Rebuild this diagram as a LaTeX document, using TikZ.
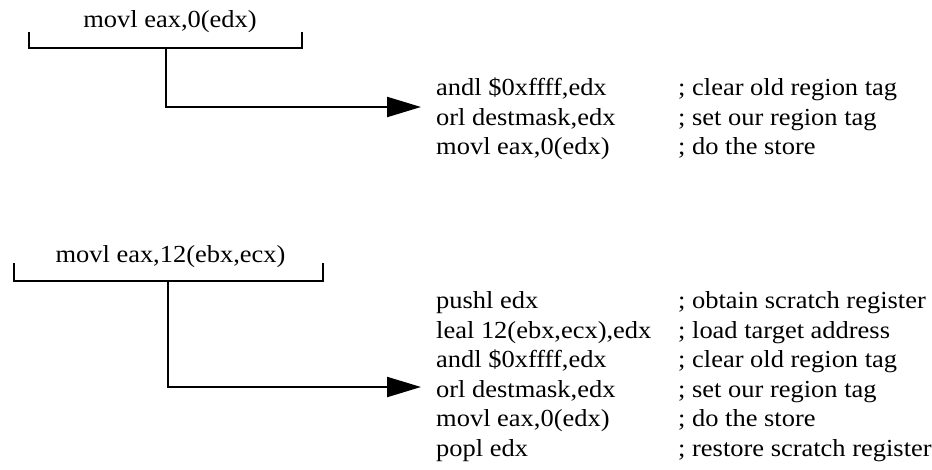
\documentclass[tikz,border=0pt]{standalone}
\usepackage{fontspec}
\setmainfont{Liberation Serif}[FakeStretch=1.08]
\usetikzlibrary{arrows.meta}

\tikzset{
  asm/.style={inner sep=0pt, font=\fontsize{24.5}{29.5}\selectfont},
  code/.style={asm, anchor=base west},
  bracket/.style={line width=2.2pt},
  flow/.style={line width=2.2pt, -{Triangle[length=34pt,width=20pt]}}
}

\begin{document}
\begin{tikzpicture}[x=1pt,y=-1pt]
  \useasboundingbox (0,0) rectangle (932,469);

  % plain store
  \node[asm, anchor=base] (storeA) at (170,27) {movl eax,0(edx)};
  \draw[bracket] (29,32) -- (29,48) -- (302,48) -- (302,32);
  \coordinate (stemA) at (166,48);
  \coordinate (tipA) at (421,107);
  \draw[flow] (stemA) |- (tipA);
  \foreach \y/\ins/\rem [count=\n] in {
      95.5/{andl \$0xffff,edx}/{; clear old region tag},
      125/{orl destmask,edx}/{; set our region tag},
      154.5/{movl eax,0(edx)}/{; do the store}} {
    \node[code] (insA\n) at (436,\y) {\ins};
    \node[code] (remA\n) at (678,\y) {\rem};
  }

  % store through an indexed address
  \node[asm, anchor=base] (storeB) at (170.5,262) {movl eax,12(ebx,ecx)};
  \draw[bracket] (14,263) -- (14,281) -- (323,281) -- (323,263);
  \coordinate (stemB) at (168,281);
  \coordinate (tipB) at (421,387);
  \draw[flow] (stemB) |- (tipB);
  \foreach \y/\ins/\rem [count=\n] in {
      308.5/{pushl edx}/{; obtain scratch register},
      338/{leal 12(ebx,ecx),edx}/{; load target address},
      367.5/{andl \$0xffff,edx}/{; clear old region tag},
      397/{orl destmask,edx}/{; set our region tag},
      426.5/{movl eax,0(edx)}/{; do the store},
      456/{popl edx}/{; restore scratch register}} {
    \node[code] (insB\n) at (436,\y) {\ins};
    \node[code] (remB\n) at (678,\y) {\rem};
  }
\end{tikzpicture}
\end{document}
